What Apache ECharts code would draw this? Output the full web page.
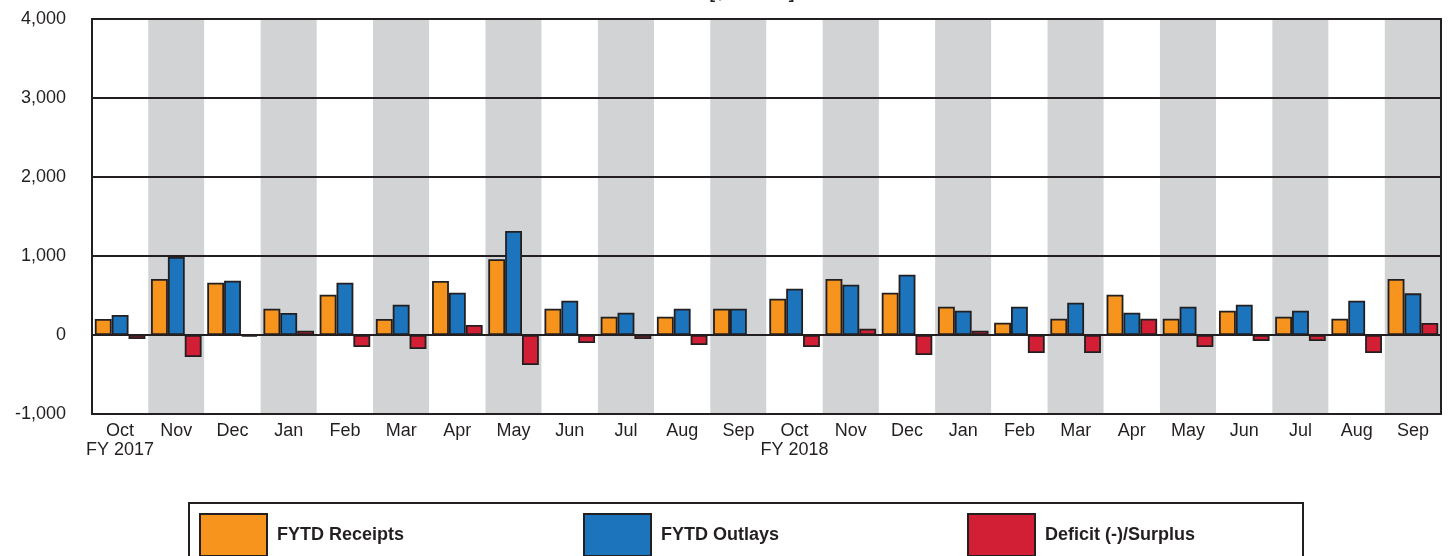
<!DOCTYPE html>
<html>
<head>
<meta charset="utf-8">
<script src="https://cdn.jsdelivr.net/npm/echarts@6/dist/echarts.min.js"></script>
<style>
html,body{margin:0;padding:0;background:#fff;}
#chart{width:1449px;height:556px;}
</style>
</head>
<body>
<div id="chart"></div>
<script>
var categories = ['Oct\nFY 2017','Nov','Dec','Jan','Feb','Mar','Apr','May','Jun','Jul','Aug','Sep',
                  'Oct\nFY 2018','Nov','Dec','Jan','Feb','Mar','Apr','May','Jun','Jul','Aug','Sep'];
var receipts = [203, 709, 662, 333, 511, 203, 684, 958, 333, 232, 232, 333,
                460, 709, 536, 359, 156, 207, 511, 207, 308, 232, 207, 709];
var outlays  = [253, 987, 688, 278, 662, 384, 536, 1316, 435, 283, 333, 333,
                586, 637, 764, 308, 359, 409, 283, 359, 384, 308, 435, 527];
var deficit  = [-51, -278, -21, 55, -152, -177, 127, -380, -101, -51, -127, 0,
                -152, 80, -253, 55, -228, -228, 207, -152, -76, -76, -228, 152];
var seriesNames = ['FYTD Receipts', 'FYTD Outlays', 'Deficit (-)/Surplus'];
var yMin = -1000, yMax = 4000, yStep = 1000;

var ink = '#231f20';
var font = '"Liberation Sans", Arial, sans-serif';
var colors = ['#F7941D', '#1C75BC', '#D21F35'];
var chart = echarts.init(document.getElementById('chart'));

function fmt(v){ return v < 0 ? '-' + Math.abs(v).toLocaleString('en-US') : v.toLocaleString('en-US'); }

var seriesData = [receipts, outlays, deficit];
var series = seriesData.map(function(d, i){
  return {
    name: seriesNames[i],
    type: 'bar',
    data: d,
    z: 3,
    barGap: '0%',
    barCategoryGap: '10%',
    itemStyle: { color: colors[i], borderColor: ink, borderWidth: 1.8 },
    emphasis: { disabled: true },
    animation: false
  };
});

var legendLefts = [199, 583, 967];
var legends = seriesNames.map(function(n, i){
  return {
    data: [n],
    left: legendLefts[i],
    top: 513,
    padding: 0,
    itemWidth: 67,
    itemHeight: 42,
    icon: 'rect',
    selectedMode: false,
    textStyle: { fontFamily: font, fontSize: 18, fontWeight: 'bold', color: ink, padding: [0,0,0,5] }
  };
});

chart.setOption({
  backgroundColor: '#fff',
  animation: false,
  grid: { left: 92, right: 8, top: 19, bottom: 142, show: true, borderColor: ink, borderWidth: 2, backgroundColor: 'transparent', z: 2 },
  legend: legends,
  graphic: [
    { type: 'rect', shape: { x: 189, y: 503, width: 1114, height: 80 }, style: { fill: 'none', stroke: ink, lineWidth: 2 }, silent: true },
    { type: 'text', style: { text: '[$ billions]', x: 752, y: -14, textAlign: 'center', fill: ink, font: 'bold 17px "Liberation Sans", Arial, sans-serif' }, silent: true }
  ],
  xAxis: {
    type: 'category',
    data: categories,
    boundaryGap: true,
    z: 0,
    axisLine: { show: false },
    axisTick: { show: false },
    splitArea: { show: true, interval: 0, areaStyle: { color: ['#ffffff', '#D1D3D4'] } },
    axisLabel: { interval: 0, margin: 8, fontFamily: font, fontSize: 18, color: ink, lineHeight: 19 }
  },
  yAxis: {
    type: 'value',
    min: yMin, max: yMax, interval: yStep,
    z: 1,
    axisLine: { show: false },
    axisTick: { show: false },
    splitLine: { show: true, lineStyle: { color: ink, width: 2 } },
    axisLabel: { margin: 26, fontFamily: font, fontSize: 18, color: ink, formatter: fmt }
  },
  series: series
});
</script>
</body>
</html>
